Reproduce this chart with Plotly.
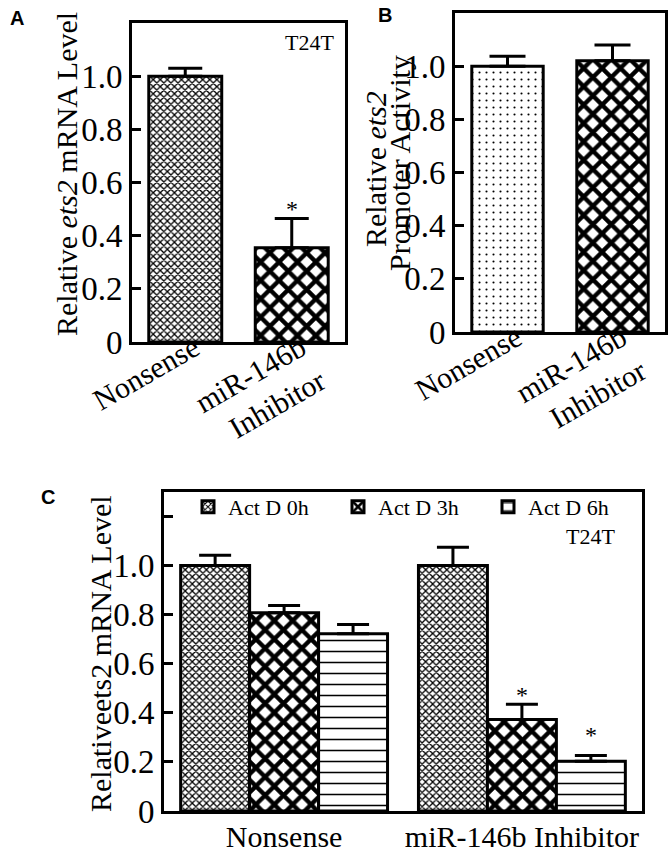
import plotly.graph_objects as go

# ---------------- data ----------------
cats_ab = ["Nonsense", "miR-146b<br>Inhibitor"]
a_vals = [1.0, 0.355]
a_err = [0.03, 0.11]
b_vals = [1.0, 1.02]
b_err = [0.037, 0.06]

cats_c = ["Nonsense", "miR-146b Inhibitor"]
series_c = ["Act D 0h", "Act D 3h", "Act D 6h"]
c_0h = [1.0, 1.0]
c_0h_err = [0.042, 0.075]
c_3h = [0.808, 0.373]
c_3h_err = [0.029, 0.062]
c_6h = [0.722, 0.203]
c_6h_err = [0.038, 0.023]

yticks_ab = [0, 0.2, 0.4, 0.6, 0.8, 1.0]
yticks_c = [0, 0.2, 0.4, 0.6, 0.8, 1.0, 1.2]
ytext_ab = ["0", "0.2", "0.4", "0.6", "0.8", "1.0"]
ytext_c = ["0", "0.2", "0.4", "0.6", "0.8", "1.0", ""]

SERIF = "Liberation Serif"
W, H = 669, 856

def px_x(a, b):
    return [a / W, b / W]

def px_y(top, bottom):
    return [1 - bottom / H, 1 - top / H]

def pat(shape, size, solidity):
    return dict(shape=shape, size=size, solidity=solidity, fgcolor="black",
                bgcolor="white", fgopacity=1, fillmode="replace")

dense = pat("x", 5, 0.45)
coarse = pat("x", 13, 0.55)
lines = pat("-", 11, 0.14)

def tf(size):
    return dict(family=SERIF, size=size, color="black")

fig = go.Figure()

def err(arr, w):
    return dict(type="data", symmetric=False, array=arr, arrayminus=[0] * len(arr),
                color="black", thickness=3, width=w)

# Panel A
fig.add_trace(go.Bar(x=cats_ab, y=a_vals, width=0.685, xaxis="x", yaxis="y",
                     marker=dict(color="white", line=dict(color="black", width=3),
                                 pattern=dict(shape=["x", "x"], size=[5, 13],
                                              solidity=[0.45, 0.55], fgcolor="black",
                                              bgcolor="white", fgopacity=1, fillmode="replace")),
                     error_y=err(a_err, 17), showlegend=False))
# Panel B
fig.add_trace(go.Bar(x=cats_ab, y=b_vals, width=0.68, xaxis="x2", yaxis="y2",
                     marker=dict(color="white", line=dict(color="black", width=3),
                                 pattern=dict(shape=[".", "x"], size=[7, 13],
                                              solidity=[0.07, 0.55], fgcolor="black",
                                              bgcolor="white", fgopacity=1, fillmode="replace")),
                     error_y=err(b_err, 18), showlegend=False))
# Panel C
c_vals = [c_0h, c_3h, c_6h]
c_errs = [c_0h_err, c_3h_err, c_6h_err]
pats = [dense, coarse, lines]
bw = 0.29
for i, name in enumerate(series_c):
    fig.add_trace(go.Bar(x=cats_c, y=c_vals[i], name=name, width=bw, offset=-1.5 * bw + i * bw,
                         xaxis="x3", yaxis="y3",
                         marker=dict(color="white", line=dict(color="black", width=3), pattern=pats[i]),
                         error_y=err(c_errs[i], 16)))

axis_common = dict(showline=True, linecolor="black", linewidth=3, mirror=True,
                   showgrid=False, zeroline=False, automargin=False)
ytick_common = dict(ticks="inside", ticklen=9, tickwidth=3, tickcolor="black", tickfont=tf(33))

fig.update_layout(
    width=W, height=H, margin=dict(l=0, r=0, t=0, b=0),
    paper_bgcolor="white", plot_bgcolor="white",
    barmode="overlay",
    font=dict(family=SERIF, color="black", size=30),
    xaxis=dict(domain=px_x(132, 345), tickangle=-30, ticks="", tickfont=tf(30),
               ticklabelstandoff=-26, ticklabelshift=9, **axis_common),
    yaxis=dict(domain=px_y(23, 342), range=[0, 1.2], tickvals=yticks_ab, ticktext=ytext_ab,
               **ytick_common, **axis_common),
    xaxis2=dict(domain=px_x(455, 665), tickangle=-30, ticks="", tickfont=tf(30),
                ticklabelstandoff=-26, ticklabelshift=9, anchor="y2", **axis_common),
    yaxis2=dict(domain=px_y(13, 332), range=[0, 1.2], tickvals=yticks_ab, ticktext=ytext_ab,
                anchor="x2", **ytick_common, **axis_common),
    xaxis3=dict(domain=px_x(164, 642), range=[-0.505, 1.505], ticks="", tickfont=tf(30),
                ticklabelstandoff=-3, anchor="y3", **axis_common),
    yaxis3=dict(domain=px_y(492, 811), range=[0, 1.3], tickvals=yticks_c, ticktext=ytext_c,
                anchor="x3", **ytick_common, **axis_common),
    legend=dict(orientation="h", x=188 / W, y=1 - 486 / H, xanchor="left", yanchor="top",
                font=tf(22), bgcolor="rgba(0,0,0,0)",
                entrywidth=105, entrywidthmode="pixels", itemwidth=30, tracegroupgap=0),
)

ann = []

def label(text, x, y, size, angle=0, family=SERIF, xanchor="center"):
    ann.append(dict(text=text, x=x / W, y=1 - y / H, xref="paper", yref="paper",
                    xanchor=xanchor, yanchor="middle", textangle=angle, showarrow=False,
                    font=dict(family=family, size=size, color="black")))

# panel letters
label("<b>A</b>", 17, 18, 20, family="Liberation Sans")
label("<b>B</b>", 385, 15, 20, family="Liberation Sans")
label("<b>C</b>", 48, 497, 20, family="Liberation Sans")
# T24T labels
label("T24T", 336, 43, 22, xanchor="right")
label("T24T", 617, 536, 22, xanchor="right")
# axis titles
label("Relative <i>ets2</i> mRNA Level", 66, 174, 30, angle=-90)
label("Relative <i>ets2</i>", 376, 169, 30, angle=-90)
label("Promoter Activity", 399, 163, 30, angle=-90)
label("Relativeets2 mRNA Level", 100, 654, 30, angle=-90)

# significance stars
ann.append(dict(text="*", x=1, y=a_vals[1] + a_err[1], xref="x", yref="y", yanchor="bottom",
                showarrow=False, font=tf(24), yshift=-6))
ann.append(dict(text="*", x=1, y=c_3h[1] + c_3h_err[1], xref="x3", yref="y3", yanchor="bottom",
                showarrow=False, font=tf(24), yshift=-6))
ann.append(dict(text="*", x=1 + bw, y=c_6h[1] + c_6h_err[1], xref="x3", yref="y3", yanchor="bottom",
                showarrow=False, font=tf(24), yshift=6))
fig.update_layout(annotations=ann)

fig.write_html("out.html", config={"displayModeBar": False},
               post_script="document.body.style.margin='0';")
